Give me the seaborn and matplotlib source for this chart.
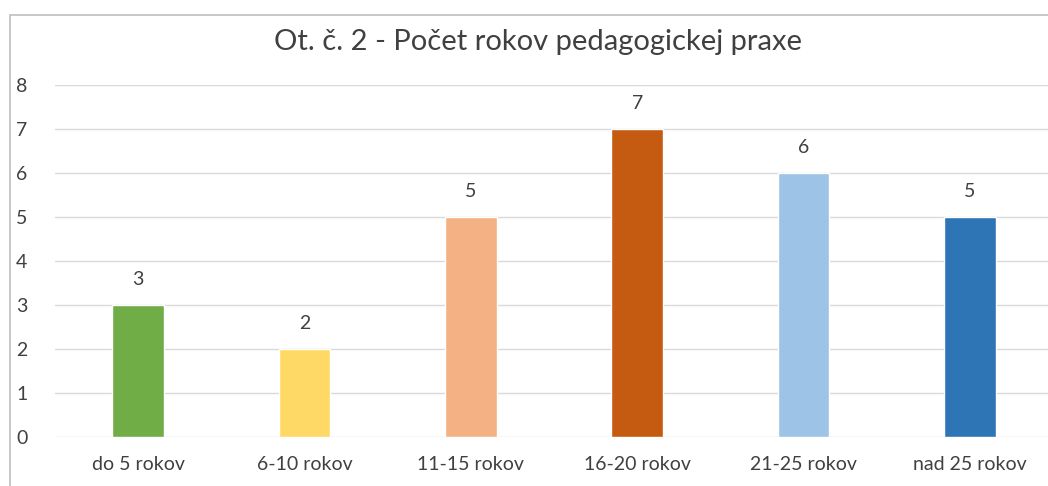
import matplotlib
matplotlib.use('Agg')
import matplotlib.pyplot as plt
import seaborn as sns
import pandas as pd
from matplotlib.patches import Rectangle

categories = ['do 5 rokov', '6-10 rokov', '11-15 rokov', '16-20 rokov', '21-25 rokov', 'nad 25 rokov']
counts = [3, 2, 5, 7, 6, 5]
bar_colors = ['#70AD47', '#FFD966', '#F4B183', '#C55A11', '#9DC3E6', '#2E75B6']
title = 'Ot. č. 2 - Počet rokov pedagogickej praxe'

sns.set_style('white')
plt.rcParams['font.family'] = ['Lato', 'DejaVu Sans']

df = pd.DataFrame({'kategoria': categories, 'pocet': counts})

fig = plt.figure(figsize=(10.48, 4.86), dpi=100)
ax = fig.add_axes([55 / 1048, 49 / 486, 998 / 1048, 352 / 486])

sns.barplot(data=df, x='kategoria', y='pocet', hue='kategoria', palette=bar_colors,
            width=0.31, legend=False, ax=ax, saturation=1, zorder=3)

ax.set_ylim(0, 8)
ax.set_xlim(-0.5, 5.5)
ax.set_yticks(range(0, 9))
ax.yaxis.grid(True, color='#D9D9D9', linewidth=1, zorder=0)
for s in ax.spines.values():
    s.set_visible(False)
ax.set_xlabel('')
ax.set_ylabel('')
ax.tick_params(axis='y', length=0, pad=28, labelsize=14, labelcolor='#404040')
ax.tick_params(axis='x', length=0, pad=14, labelsize=14, labelcolor='#404040')
for lbl in ax.get_yticklabels():
    lbl.set_horizontalalignment('left')

for i, v in enumerate(counts):
    ax.annotate(str(v), (i, v), xytext=(0, 12), textcoords='offset points',
                ha='center', va='bottom', fontsize=14, color='#404040')

fig.text(538 / 1048, 1 - 42 / 486, title, ha='center', va='center', fontsize=21, color='#404040')

fig.patches.append(Rectangle((10 / 1048, -0.1), 1.2, 1 - 15 / 486 + 0.1,
                             transform=fig.transFigure, fill=False,
                             edgecolor='#BFBFBF', linewidth=1.2))

fig.savefig('out.png', dpi=100)
